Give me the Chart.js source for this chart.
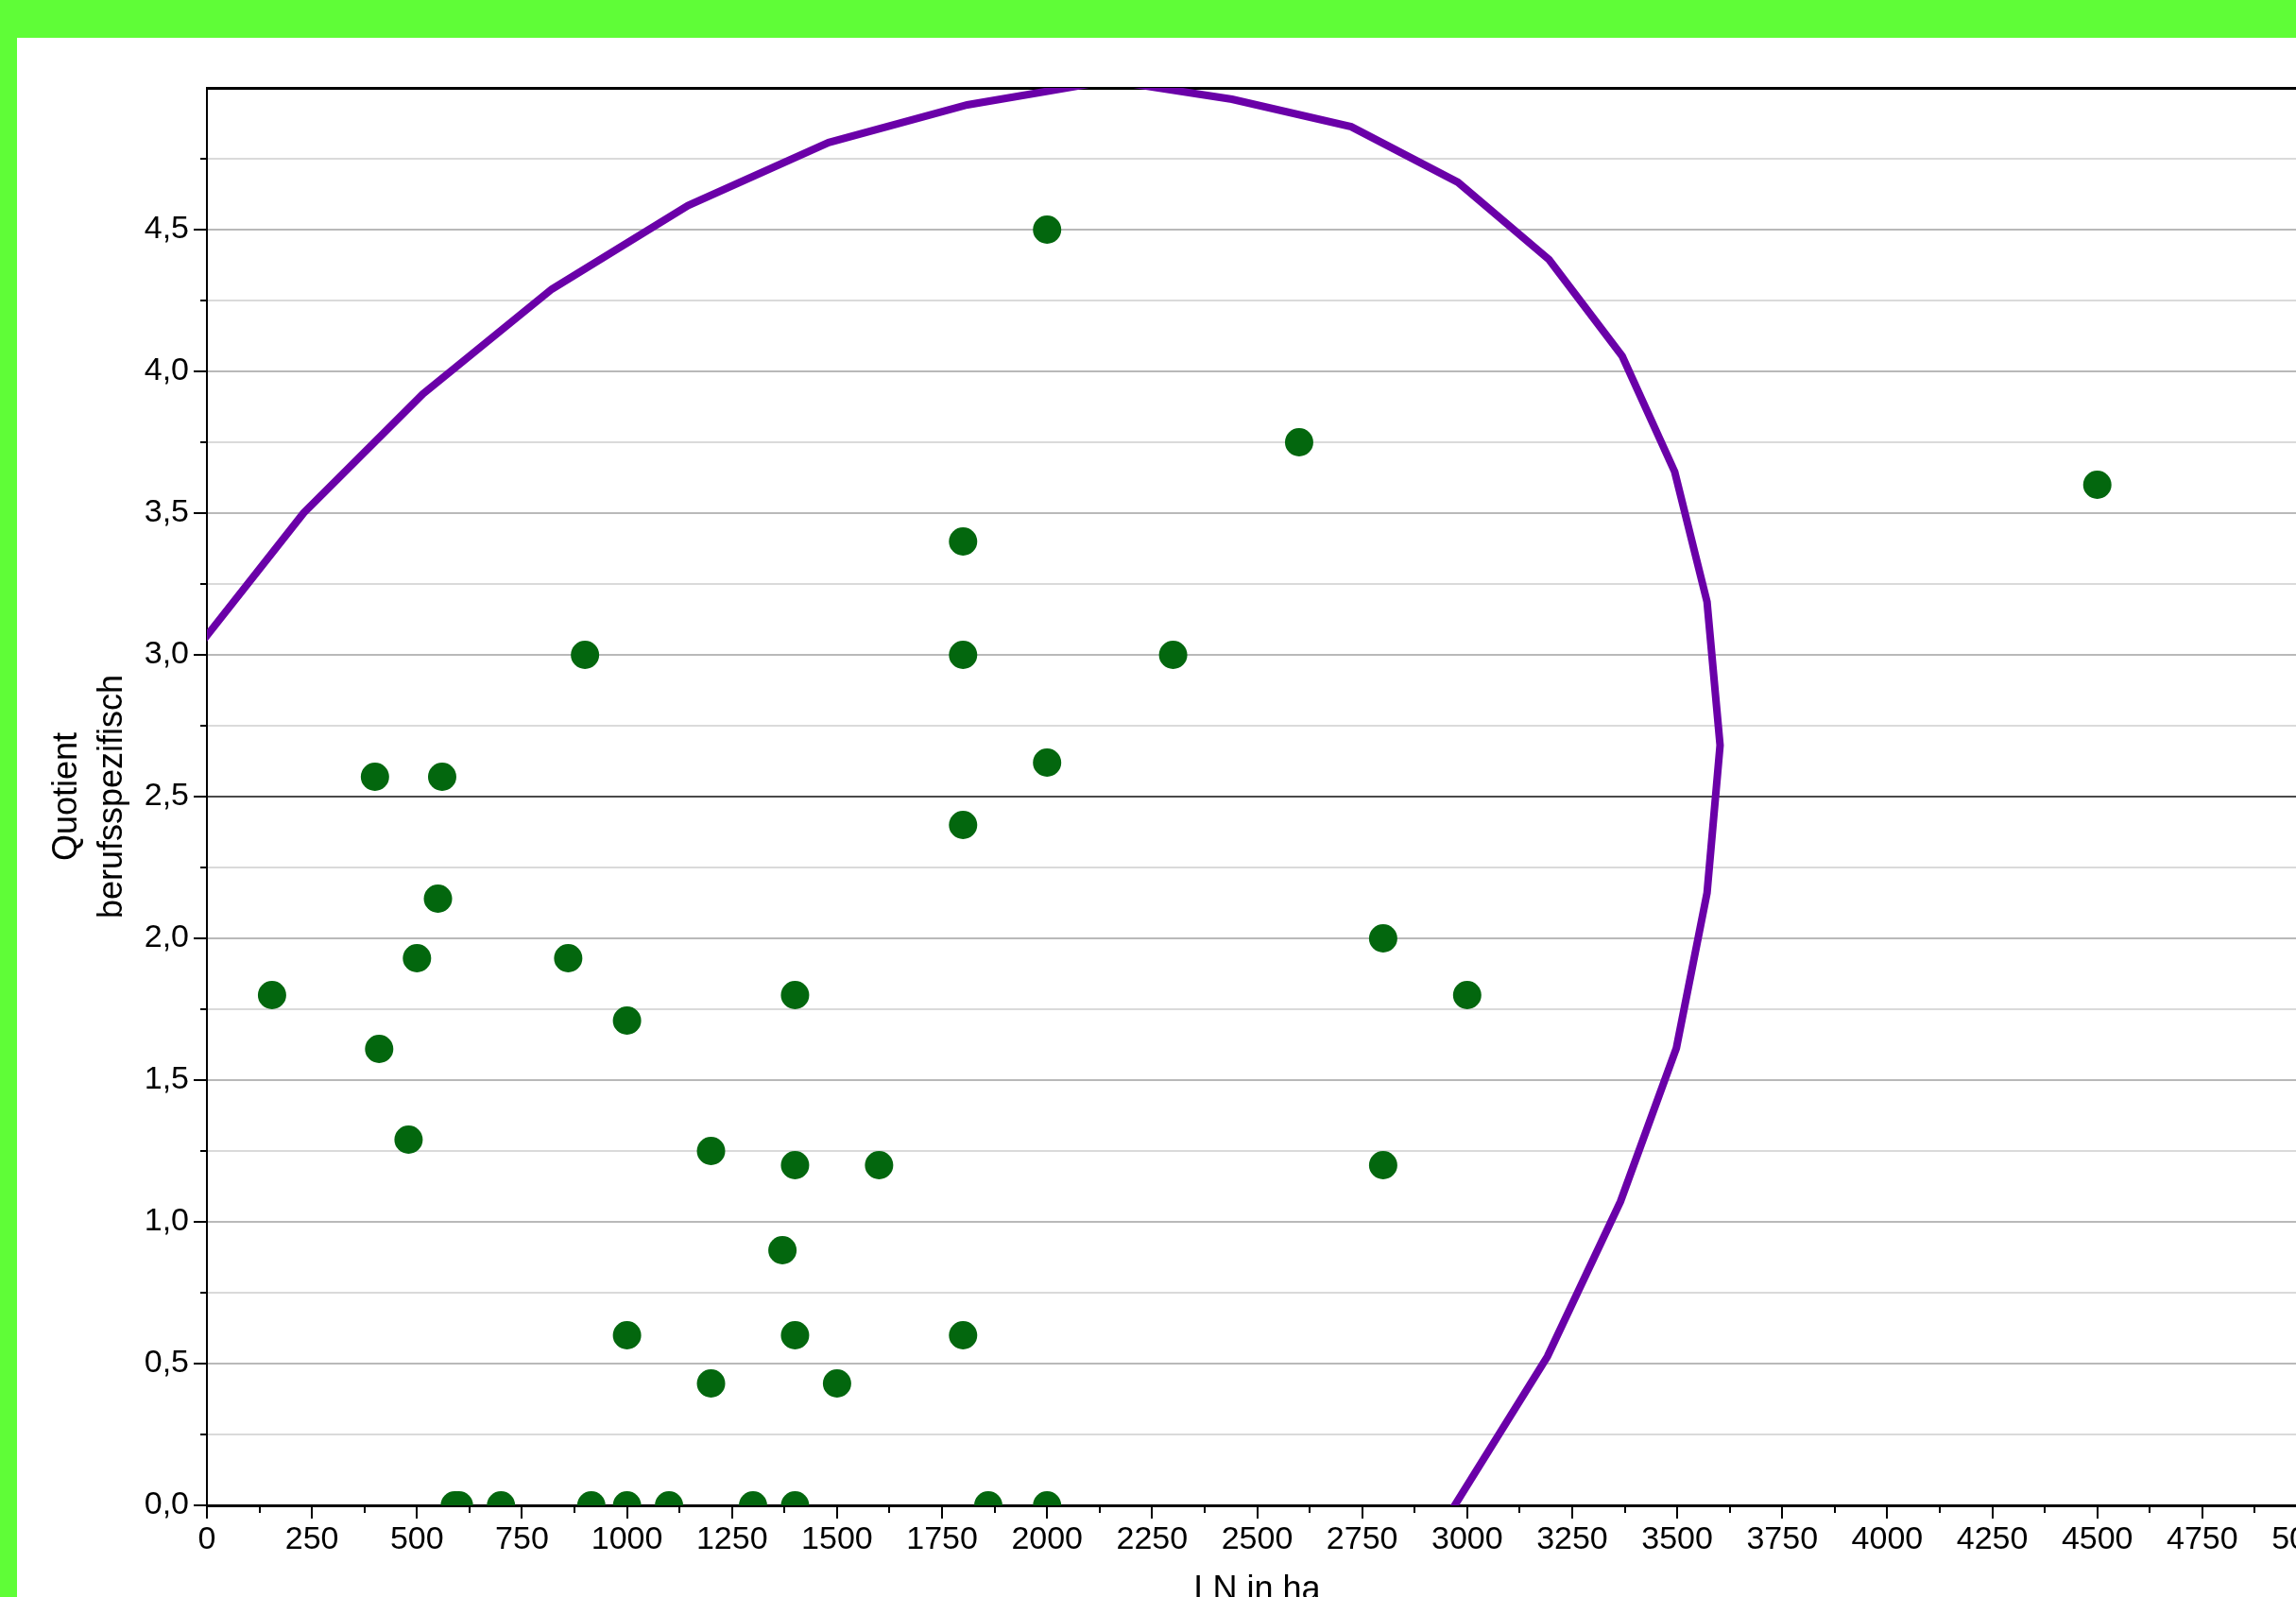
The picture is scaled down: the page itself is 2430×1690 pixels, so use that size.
<!DOCTYPE html>
<html lang="de">
<head>
<meta charset="utf-8">
<title>Quotient berufsspezifisch / LN in ha</title>
<script src="https://cdn.jsdelivr.net/npm/chart.js@4.4.0/dist/chart.umd.min.js"></script>
<style>
  html, body { margin: 0; padding: 0; overflow: hidden; }
  body { width: 2430px; height: 1690px; background: #5ffd37; position: relative; }
  #frame { position: absolute; left: 18px; top: 40px; width: 2500px; height: 1700px; background: #fff; }
  #chart { display: block; }
</style>
</head>
<body>
<div id="frame"><canvas id="chart" width="2500" height="1700"></canvas></div>
<script>
// Betriebe: LN in ha und berufsspezifischer Quotient
const lnHa = [155, 400, 410, 480, 500, 550, 560, 900, 860, 1000, 1000, 1200, 1200, 1370,
  1400, 1400, 1400, 1500, 1600, 1800, 1800, 1800, 1800, 2000, 2000, 2300, 2600, 2800,
  2800, 3000, 4500,
  590, 600, 700, 915, 1000, 1100, 1300, 1400, 1860, 2000];
const quotient = [1.80, 2.57, 1.61, 1.29, 1.93, 2.14, 2.57, 3.00, 1.93, 1.71, 0.60, 1.25, 0.43, 0.90,
  1.80, 1.20, 0.60, 0.43, 1.20, 3.40, 3.00, 2.40, 0.60, 4.50, 2.62, 3.00, 3.75, 2.00,
  1.20, 1.80, 3.60,
  0, 0, 0, 0, 0, 0, 0, 0, 0, 0];

// violette Umrisslinie (Polygonzug, läuft oben und unten aus dem Diagramm)
const outlineLn = [-100, 230, 514, 821, 1145, 1480, 1810, 2150, 2440, 2724, 2978, 3195,
  3369, 3494, 3571, 3602, 3571, 3498, 3365, 3191, 2920];
const outlineQ = [2.88, 3.50, 3.92, 4.29, 4.585, 4.807, 4.94, 5.026, 4.96, 4.863, 4.667, 4.394,
  4.054, 3.646, 3.187, 2.681, 2.16, 1.613, 1.072, 0.525, -0.12];

const FONT = "'Liberation Sans', Arial, Helvetica, sans-serif";
const canvas = document.getElementById('chart');

const isMajorY = v => Math.abs(v * 2 - Math.round(v * 2)) < 1e-6;
const fmt = v => v.toFixed(1).replace('.', ',');

function gridColor(v) {
  if (Math.abs(v - 5) < 1e-6) return '#000';
  if (Math.abs(v) < 1e-6) return 'rgba(0,0,0,0)';
  if (Math.abs(v - 2.5) < 1e-6) return '#4a4a4a';
  return isMajorY(v) ? '#b9b9b9' : '#dadada';
}

// tick marks outside the plot: long at labelled values, short in between
const tickMarks = {
  id: 'tickMarks',
  afterDraw(chart) {
    const c = chart.ctx;
    const area = chart.chartArea;
    const xs = chart.scales.x, ys = chart.scales.y;
    c.save();
    c.strokeStyle = '#000';
    c.lineWidth = 2;
    c.beginPath();
    ys.ticks.forEach(t => {
      if (t.value >= 5) return;
      const y = Math.round(ys.getPixelForValue(t.value));
      const len = isMajorY(t.value) ? 14 : 7;
      c.moveTo(area.left - len, y);
      c.lineTo(area.left, y);
    });
    xs.ticks.forEach(t => {
      const x = Math.round(xs.getPixelForValue(t.value));
      const len = t.value % 250 === 0 ? 14 : 8;
      c.moveTo(x, area.bottom);
      c.lineTo(x, area.bottom + len);
    });
    c.stroke();
    c.restore();
  }
};

new Chart(canvas, {
  type: 'scatter',
  data: {
    datasets: [
      {
        label: 'Umriss',
        data: outlineLn.map((x, i) => ({ x: x, y: outlineQ[i] })),
        showLine: true,
        borderColor: '#6a00a8',
        borderWidth: 8,
        pointRadius: 0,
        fill: false,
        tension: 0,
        clip: 0
      },
      {
        label: 'Betriebe',
        data: lnHa.map((x, i) => ({ x: x, y: quotient[i] })),
        backgroundColor: '#03670e',
        borderWidth: 0,
        pointRadius: 15,
        clip: 0
      }
    ]
  },
  options: {
    responsive: false,
    animation: false,
    layout: { padding: { top: 53, right: 76, bottom: 0, left: 0 } },
    plugins: {
      legend: { display: false },
      tooltip: { enabled: false }
    },
    scales: {
      x: {
        type: 'linear',
        position: 'bottom',
        min: 0,
        max: 5000,
        afterFit: s => { s.height = 147; },
        ticks: {
          stepSize: 125,
          autoSkip: false,
          maxRotation: 0,
          padding: 16,
          color: '#000',
          font: { family: FONT, size: 34 },
          callback: v => v % 250 === 0 ? String(v) : ''
        },
        grid: { drawOnChartArea: false, drawTicks: false },
        border: { color: '#000', width: 3 },
        title: {
          display: true,
          text: 'LN in ha',
          color: '#000',
          font: { family: FONT, size: 36 },
          padding: { top: 0, bottom: 35 }
        }
      },
      y: {
        type: 'linear',
        min: 0,
        max: 5,
        afterFit: s => { s.width = 201; },
        ticks: {
          stepSize: 0.25,
          autoSkip: false,
          padding: 19,
          color: '#000',
          font: { family: FONT, size: 34 },
          callback: v => (isMajorY(v) && v < 5) ? fmt(v) : ''
        },
        grid: {
          drawTicks: false,
          color: c => gridColor(c.tick.value),
          lineWidth: c => Math.abs(c.tick.value - 5) < 1e-6 ? 3 : 2
        },
        border: { color: '#000', width: 2 },
        title: {
          display: true,
          text: ['Quotient', 'berufsspezifisch'],
          color: '#000',
          font: { family: FONT, size: 36, lineHeight: 1.33 },
          padding: { top: 29, bottom: 0 }
        }
      }
    }
  },
  plugins: [tickMarks]
});
</script>
</body>
</html>
